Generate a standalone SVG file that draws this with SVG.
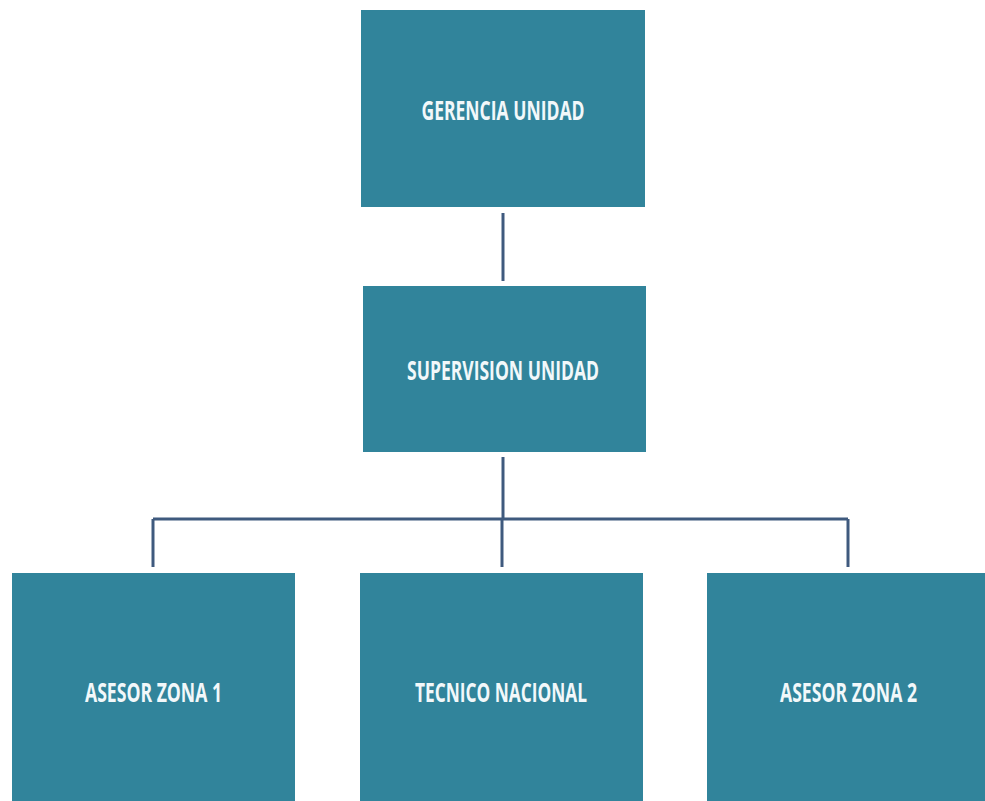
<svg xmlns="http://www.w3.org/2000/svg" width="985" height="801" viewBox="0 0 985 801">
<style>
.box{fill:#31849b}
.lbl{fill:#f2f8fa;font-family:"Open Sans","Liberation Sans",sans-serif;font-weight:bold;font-size:26px;text-anchor:middle}
.ln{stroke:#3f5a7e;stroke-width:3;fill:none}
</style>
<rect width="985" height="801" fill="#ffffff"/>
<g id="connectors">
<line class="ln" x1="503" y1="213" x2="503" y2="281"/>
<line class="ln" x1="503" y1="457" x2="503" y2="519"/>
<line class="ln" x1="153" y1="519" x2="848" y2="519"/>
<line class="ln" x1="153" y1="519" x2="153" y2="567"/>
<line class="ln" x1="502" y1="519" x2="502" y2="567"/>
<line class="ln" x1="848" y1="519" x2="848" y2="567"/>
</g>
<g id="gerencia">
<rect class="box" x="361" y="10" width="284" height="197"/>
<text class="lbl" x="503" y="120" textLength="163" lengthAdjust="spacingAndGlyphs">GERENCIA UNIDAD</text>
</g>
<g id="supervision">
<rect class="box" x="363" y="286" width="283" height="166"/>
<text class="lbl" x="503" y="380" textLength="192" lengthAdjust="spacingAndGlyphs">SUPERVISION UNIDAD</text>
</g>
<g id="asesor1">
<rect class="box" x="12" y="573" width="283" height="228"/>
<text class="lbl" x="153.5" y="702" textLength="137" lengthAdjust="spacingAndGlyphs">ASESOR ZONA 1</text>
</g>
<g id="tecnico">
<rect class="box" x="360" y="573" width="283" height="228"/>
<text class="lbl" x="501" y="702" textLength="172" lengthAdjust="spacingAndGlyphs">TECNICO NACIONAL</text>
</g>
<g id="asesor2">
<rect class="box" x="707" y="573" width="278" height="228"/>
<text class="lbl" x="848.5" y="702" textLength="137" lengthAdjust="spacingAndGlyphs">ASESOR ZONA 2</text>
</g>
</svg>
